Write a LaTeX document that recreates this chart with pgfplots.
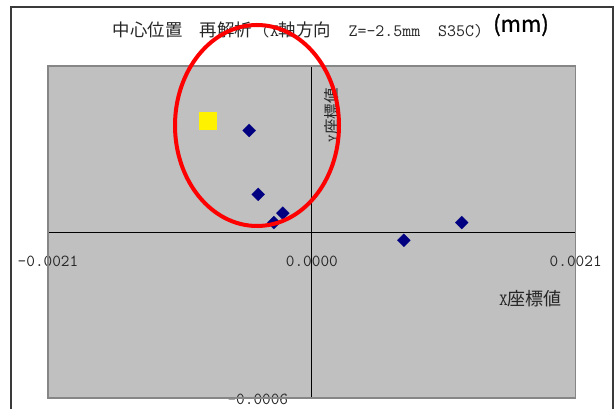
\documentclass[border=0pt]{standalone}
\usepackage{fontspec}
\usepackage{pgfplots}
\pgfplotsset{compat=1.18}
\newfontfamily\cjk{Noto Sans CJK JP}
\newfontfamily\cjkheavy[FakeBold=1]{Noto Sans CJK JP}
\definecolor{plotgray}{HTML}{C0C0C0}
\definecolor{bordergray}{HTML}{868686}
\definecolor{navymark}{HTML}{000080}
\definecolor{framegray}{HTML}{3A3A3A}
\definecolor{txt}{HTML}{262626}
\newcommand{\ttat}[1]{\fontsize{#1}{#1}\selectfont\ttfamily}
\newcommand{\cjkat}[1]{\cjk\fontsize{#1}{#1}\selectfont}

\begin{document}
\begin{tikzpicture}
\useasboundingbox (0pt,0pt) rectangle (614pt,409pt);
\fill[white] (0pt,0pt) rectangle (614pt,409pt);
% chart frame (open at the bottom)
\draw[framegray, line width=2pt] (11pt,-20pt) -- (11pt,402pt) -- (612.5pt,402pt) -- (612.5pt,-20pt);
\begin{axis}[
  name=main,
  at={(48pt,11pt)}, anchor=south west,
  scale only axis, width=527.7pt, height=332pt,
  xmin=-0.0021, xmax=0.0021, ymin=-0.0006, ymax=0.0006,
  axis lines=middle,
  axis line style={-, black, line width=0.8pt},
  axis background/.style={fill=plotgray},
  hide obscured x ticks=false, hide obscured y ticks=false,
  scaled ticks=false,
  xtick={-0.0021,0,0.0021}, xticklabels={-0.0021,0.0000,0.0021},
  ytick={-0.0006}, yticklabels={-0.0006},
  major tick length=0pt,
  tick label style={font=\ttat{16.8}, text=txt},
  xticklabel style={anchor=center, yshift=-29pt},
  yticklabel style={anchor=center, xshift=-54pt, yshift=-1pt},
  xlabel={{\ttat{17.1}X}{\cjkat{18}座標値}},
  ylabel={{\ttat{14.8}Y}{\cjkat{15.5}座標値}},
  every axis x label/.style={at={(rel axis cs:0.9143,0.2997)}, anchor=center, text=txt},
  every axis y label/.style={at={(rel axis cs:0.538,0.852)}, anchor=center, rotate=90, text=txt},
  clip=false,
]
% plot area border
\draw[bordergray, line width=1.5pt] (rel axis cs:0,0) rectangle (rel axis cs:1,1);
% measured centre positions
\addplot[only marks, mark=square*, mark size=4.6pt,
  mark options={rotate=45, fill=navymark, draw=navymark, line width=0.2pt}]
  coordinates {
    (-0.000499, 0.000367)
    (-0.000427, 0.000136)
    (-0.000231, 0.000068)
    (-0.000302, 0.000034)
    ( 0.000732,-0.000030)
    ( 0.001193, 0.000034)
  };
% reference point
\addplot[only marks, mark=square*, mark size=8.35pt,
  mark options={fill=yellow, draw=yellow, line width=0pt}]
  coordinates {(-0.000825, 0.000402)};
\end{axis}
% title
\node[anchor=west, inner sep=0pt, text=txt] at (112.7pt,379pt)
  {{\cjkat{17.4}中心位置　再解析}{\ttat{17.4}\ (X}{\cjkat{17.4}軸方向　}{\ttat{17.4}Z=-2.5mm\ \ S35C)}};
\node[inner sep=0pt, text=black] at (521pt,384pt) {\cjkheavy\fontsize{22}{22}\selectfont(mm)};
% highlight ring
\draw[red, line width=4pt] (257pt,283.5pt) ellipse [x radius=82pt, y radius=100.5pt];
\end{tikzpicture}
\end{document}
